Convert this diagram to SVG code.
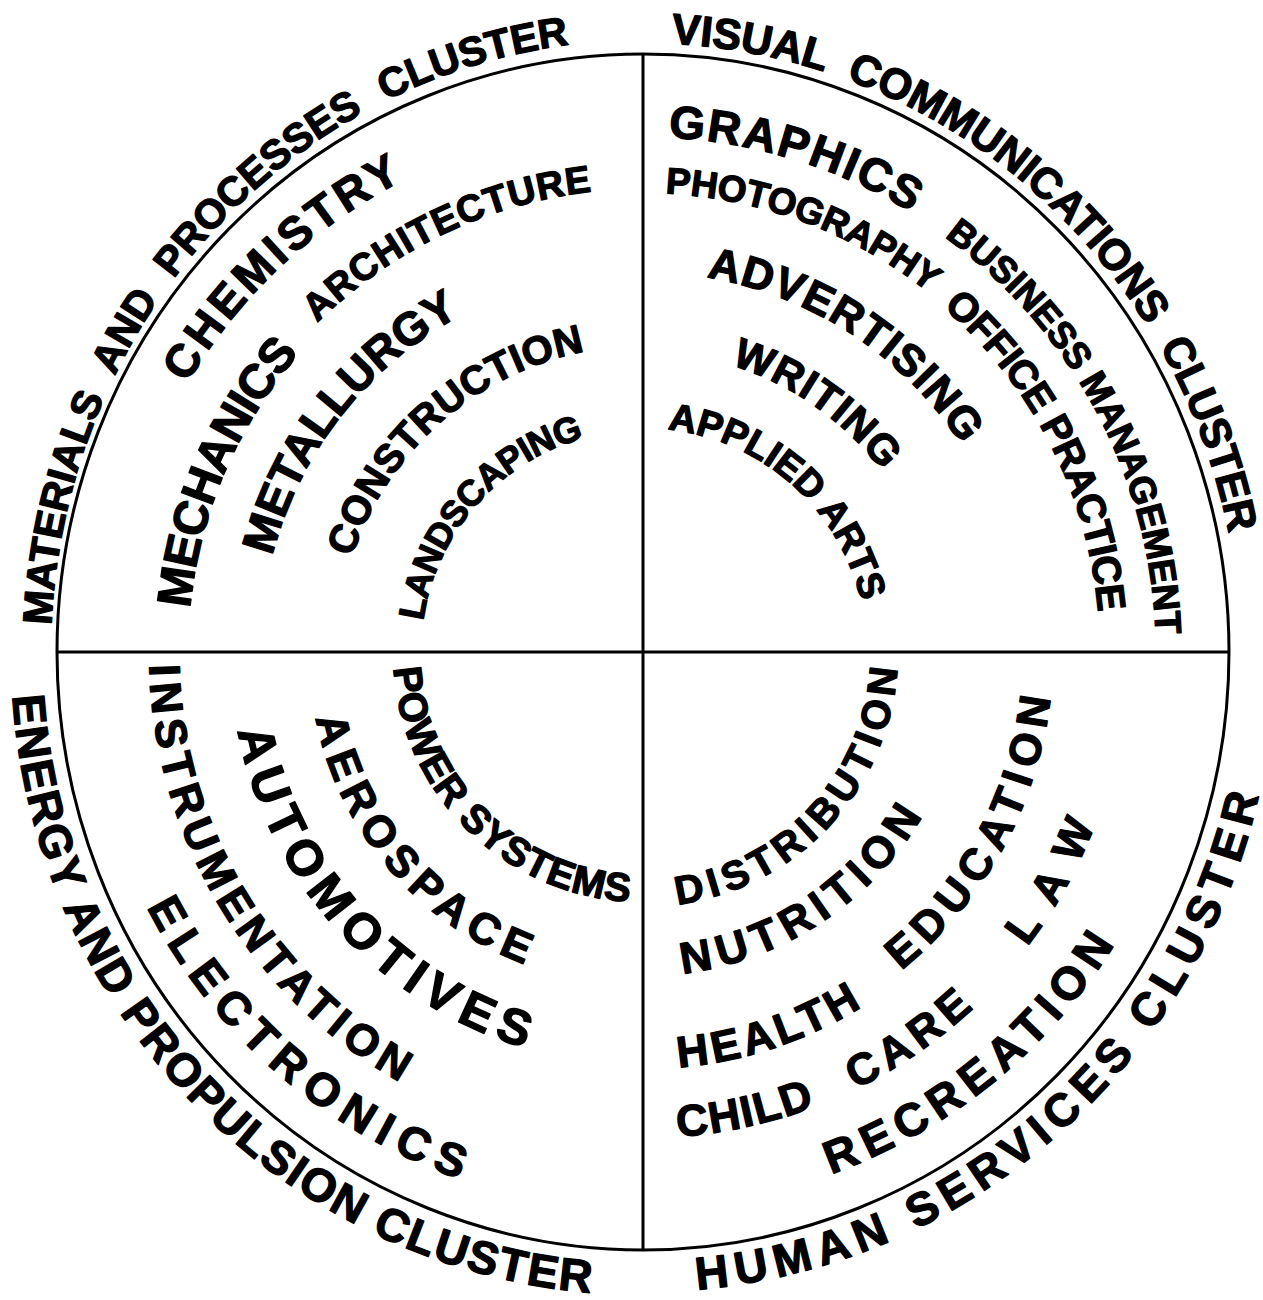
<svg xmlns="http://www.w3.org/2000/svg" width="1263" height="1300" viewBox="0 0 1263 1300">
<style>
.t{font-family:"Liberation Sans",Arial,sans-serif;font-weight:bold;fill:#000;stroke:#000;stroke-width:1.3;stroke-linejoin:round;}
.ln{fill:none;stroke:#000;stroke-width:3;}
</style>
<defs>
<path id="p-mat" d="M 51.6 625.3 A 592 612 0 0 1 637.8 40.0"/>
<path id="p-vis" d="M 671.1 43.7 A 597 609 0 0 1 1238.0 602.1"/>
<path id="p-ene" d="M 12.5 695.7 A 632 643 0 0 0 669.5 1294.4"/>
<path id="p-hum" d="M 697.0 1289.7 A 632 640 0 0 0 1270.9 724.4"/>
<path id="p-chem" d="M 187.2 383.5 A 529 529 0 0 1 453.4 158.1"/>
<path id="p-mech" d="M 190.1 608.4 A 455 455 0 0 1 332.7 319.2"/>
<path id="p-arch" d="M 317.3 322.9 A 463 463 0 0 1 640.6 189.0"/>
<path id="p-met" d="M 272.2 556.1 A 383 383 0 0 1 496.4 298.2"/>
<path id="p-cons" d="M 352.0 557.4 A 306 306 0 0 1 616.3 347.2"/>
<path id="p-land" d="M 423.2 621.1 A 222 222 0 0 1 606.4 433.0"/>
<path id="p-graph" d="M 668.2 137.6 A 515 515 0 0 1 955.8 242.9"/>
<path id="p-photo" d="M 665.4 193.5 A 459 459 0 0 1 964.7 324.6"/>
<path id="p-bus" d="M 944.5 237.0 A 513 513 0 0 1 1154.7 687.8"/>
<path id="p-off" d="M 942.8 307.1 A 457 457 0 0 1 1099.9 660.0"/>
<path id="p-adv" d="M 706.4 277.3 A 380 380 0 0 1 981.6 479.5"/>
<path id="p-writ" d="M 730.7 365.1 A 300 300 0 0 1 900.2 497.5"/>
<path id="p-appl" d="M 667.6 429.4 A 224 224 0 0 1 865.3 624.7"/>
<path id="p-pow" d="M 393.5 668.1 A 250 250 0 0 0 656.1 901.7"/>
<path id="p-aero" d="M 315.6 718.0 A 334 334 0 0 0 557.7 974.9"/>
<path id="p-auto" d="M 237.6 730.8 A 413 413 0 0 0 567.0 1058.0"/>
<path id="p-inst" d="M 149.2 664.9 A 494 494 0 0 0 446.0 1105.0"/>
<path id="p-elec" d="M 146.7 907.0 A 558 558 0 0 0 515.6 1195.3"/>
<path id="p-dist" d="M 677.6 904.6 A 255 255 0 0 0 897.8 641.8"/>
<path id="p-nutr" d="M 682.5 973.6 A 324 324 0 0 0 938.1 785.8"/>
<path id="p-health" d="M 678.6 1067.5 A 417 417 0 0 0 898.0 981.9"/>
<path id="p-edu" d="M 901.0 970.6 A 410 410 0 0 0 1053.0 654.9"/>
<path id="p-child" d="M 677.7 1136.8 A 486 486 0 0 0 861.4 1086.3"/>
<path id="p-care" d="M 855.3 1089.2 A 486 486 0 0 0 1009.2 971.5"/>
<path id="p-law" d="M 1027.0 946.6 A 484 484 0 0 0 1110.5 777.3"/>
<path id="p-recr" d="M 831.0 1174.2 A 555 555 0 0 0 1142.7 893.6"/>
</defs>
<rect width="1263" height="1300" fill="#fff"/>
<g id="frame">
<ellipse class="ln" cx="643" cy="652" rx="586" ry="598"/>
<line class="ln" x1="643" y1="54" x2="643" y2="1250"/>
<line class="ln" x1="57" y1="652" x2="1229" y2="652"/>
</g>
<g id="cluster-labels">
<text class="t" font-size="41" word-spacing="14"><textPath href="#p-mat" textLength="845">MATERIALS AND PROCESSES CLUSTER</textPath></text>
<text class="t" font-size="43" word-spacing="12"><textPath href="#p-vis" textLength="800">VISUAL COMMUNICATIONS CLUSTER</textPath></text>
<text class="t" font-size="46"><textPath href="#p-ene" textLength="905">ENERGY AND PROPULSION CLUSTER</textPath></text>
<text class="t" font-size="46"><textPath href="#p-hum" textLength="800">HUMAN SERVICES CLUSTER</textPath></text>
</g>
<g id="materials-processes">
<text class="t" font-size="46"><textPath href="#p-chem" textLength="300">CHEMISTRY</textPath></text>
<text class="t" font-size="48"><textPath href="#p-mech" textLength="282">MECHANICS</textPath></text>
<text class="t" font-size="38"><textPath href="#p-arch" textLength="310">ARCHITECTURE</textPath></text>
<text class="t" font-size="46"><textPath href="#p-met" textLength="314">METALLURGY</textPath></text>
<text class="t" font-size="40"><textPath href="#p-cons" textLength="326">CONSTRUCTION</textPath></text>
<text class="t" font-size="36"><textPath href="#p-land" textLength="258">LANDSCAPING</textPath></text>
</g>
<g id="visual-communications">
<text class="t" font-size="46"><textPath href="#p-graph" textLength="257">GRAPHICS</textPath></text>
<text class="t" font-size="37"><textPath href="#p-photo" textLength="286">PHOTOGRAPHY</textPath></text>
<text class="t" font-size="37"><textPath href="#p-bus" textLength="466">BUSINESS MANAGEMENT</textPath></text>
<text class="t" font-size="40"><textPath href="#p-off" textLength="351">OFFICE PRACTICE</textPath></text>
<text class="t" font-size="44"><textPath href="#p-adv" textLength="314">ADVERTISING</textPath></text>
<text class="t" font-size="42"><textPath href="#p-writ" textLength="188">WRITING</textPath></text>
<text class="t" font-size="38"><textPath href="#p-appl" textLength="276">APPLIED ARTS</textPath></text>
</g>
<g id="energy-propulsion">
<text class="t" font-size="40"><textPath href="#p-pow" textLength="363">POWER SYSTEMS</textPath></text>
<text class="t" font-size="44"><textPath href="#p-aero" textLength="337">AEROSPACE</textPath></text>
<text class="t" font-size="50"><textPath href="#p-auto" textLength="450">AUTOMOTIVES</textPath></text>
<text class="t" font-size="44"><textPath href="#p-inst" textLength="509">INSTRUMENTATION</textPath></text>
<text class="t" font-size="46"><textPath href="#p-elec" textLength="425">ELECTRONICS</textPath></text>
</g>
<g id="human-services">
<text class="t" font-size="40"><textPath href="#p-dist" textLength="349">DISTRIBUTION</textPath></text>
<text class="t" font-size="44"><textPath href="#p-nutr" textLength="297">NUTRITION</textPath></text>
<text class="t" font-size="44"><textPath href="#p-health" textLength="195">HEALTH</textPath></text>
<text class="t" font-size="44"><textPath href="#p-edu" textLength="319">EDUCATION</textPath></text>
<text class="t" font-size="44"><textPath href="#p-child" textLength="141">CHILD</textPath></text>
<text class="t" font-size="44"><textPath href="#p-care" textLength="144">CARE</textPath></text>
<text class="t" font-size="44"><textPath href="#p-law" textLength="139">LAW</textPath></text>
<text class="t" font-size="46"><textPath href="#p-recr" textLength="372">RECREATION</textPath></text>
</g>
</svg>
